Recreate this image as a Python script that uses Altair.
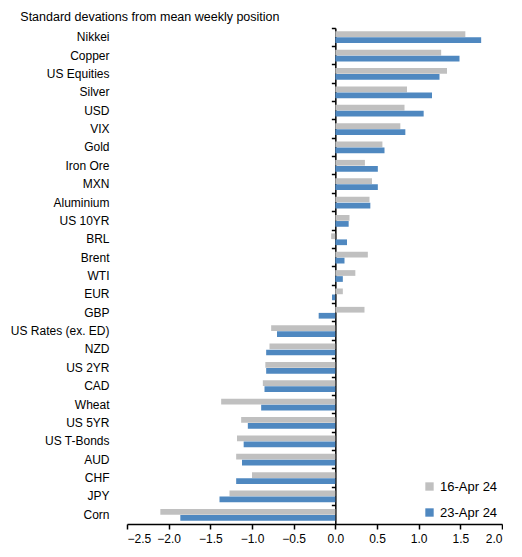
import altair as alt
import pandas as pd

categories = ["Nikkei", "Copper", "US Equities", "Silver", "USD", "VIX", "Gold", "Iron Ore",
              "MXN", "Aluminium", "US 10YR", "BRL", "Brent", "WTI", "EUR", "GBP",
              "US Rates (ex. ED)", "NZD", "US 2YR", "CAD", "Wheat", "US 5YR", "US T-Bonds",
              "AUD", "CHF", "JPY", "Corn"]
apr16 = [1.56, 1.27, 1.34, 0.86, 0.83, 0.78, 0.565, 0.355, 0.44, 0.41, 0.17, -0.05, 0.39, 0.24,
         0.09, 0.35, -0.77, -0.79, -0.84, -0.87, -1.37, -1.13, -1.18, -1.19, -1.00, -1.27, -2.10]
apr23 = [1.75, 1.49, 1.25, 1.16, 1.06, 0.84, 0.59, 0.51, 0.51, 0.42, 0.16, 0.14, 0.11, 0.09,
         -0.04, -0.20, -0.70, -0.83, -0.83, -0.85, -0.89, -1.05, -1.10, -1.12, -1.19, -1.39, -1.86]
series = ["16-Apr 24", "23-Apr 24"]
colors = ["#c0c0c0", "#4f88c0"]
x_ticks = [-2.5, -2.0, -1.5, -1.0, -0.5, 0.0, 0.5, 1.0, 1.5, 2.0]

rows = []
for i, c in enumerate(categories):
    rows.append({"cat": c, "series": series[0], "v": apr16[i]})
    rows.append({"cat": c, "series": series[1], "v": apr23[i]})
df = pd.DataFrame(rows)

W, H = 375, 496
xmin, xmax = -2.5, 2.0
zero_offset = -(0 - xmin) / (xmax - xmin) * W

xscale = alt.Scale(domain=[xmin, xmax], nice=False, zero=False)
yscale = alt.Scale(domain=categories, paddingInner=0, paddingOuter=0)
xaxis = alt.Axis(title=None, values=x_ticks, format=".1f", grid=False,
                 domainColor="black", domainWidth=1.5, tickColor="black", tickWidth=1.5,
                 tickSize=5, labelFontSize=12, labelColor="#000000", labelPadding=4,
                 labelFont="Liberation Sans")

bars = alt.Chart(df).mark_bar().encode(
    x=alt.X("v:Q", scale=xscale, axis=xaxis),
    y=alt.Y("cat:N", scale=yscale, sort=categories,
            axis=alt.Axis(title=None, domain=False, ticks=False, labelFontSize=12,
                          labelColor="#000000", labelPadding=18, labelFont="Liberation Sans")),
    yOffset=alt.YOffset("series:N", sort=series,
                        scale=alt.Scale(paddingOuter=0.55, paddingInner=0.05)),
    color=alt.Color("series:N", sort=series, scale=alt.Scale(domain=series, range=colors),
                    legend=alt.Legend(title=None, orient="bottom-right", offset=4,
                                      symbolType="square", symbolSize=70, labelFontSize=13,
                                      labelColor="#000000", rowPadding=12,
                                      labelFont="Liberation Sans", symbolStrokeWidth=0)),
)

axis_layer = alt.Chart(df).mark_point(opacity=0).encode(
    x=alt.X("v:Q", scale=xscale, axis=xaxis),
    y=alt.Y("cat:N", scale=yscale, sort=categories,
            axis=alt.Axis(title=None, orient="left", offset=zero_offset, labels=False,
                          ticks=True, bandPosition=0, tickSize=4, tickWidth=1.5,
                          domain=True, domainColor="black", domainWidth=1.5,
                          tickColor="black", grid=False)),
)

chart = alt.layer(bars, axis_layer).resolve_axis(y="independent").properties(
    width=W, height=H,
    title=alt.TitleParams("Standard devations from mean weekly position", anchor="start",
                          frame="bounds", fontSize=12.5, fontWeight="normal",
                          font="Liberation Sans", color="#000000", dx=10, offset=4),
    padding={"left": 2, "top": 2, "right": 0, "bottom": 0},
).configure_view(stroke=None)

chart.save("out.html", embed_options={"renderer": "svg", "actions": False})
